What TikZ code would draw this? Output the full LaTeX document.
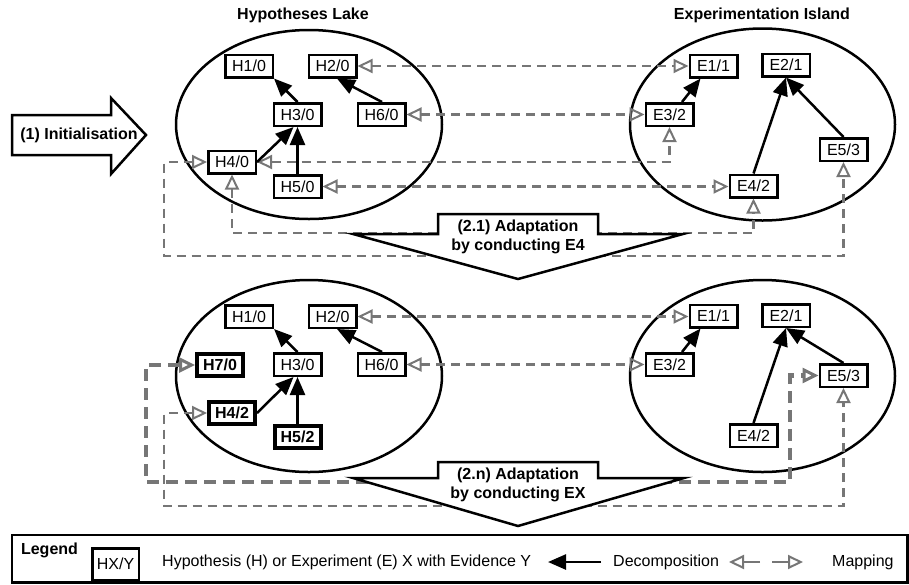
\documentclass[tikz,border=0pt]{standalone}
\usepackage{fontspec}
\setmainfont{Liberation Sans}
\usetikzlibrary{arrows.meta,calc}
\definecolor{mapgray}{HTML}{767676}
\begin{document}
\begin{tikzpicture}[x=1pt,y=-1pt,
  font=\fontsize{16}{19}\selectfont,
  box/.style={draw, line width=2.5pt, fill=white, minimum width=47.5pt, minimum height=22.5pt, inner sep=0pt},
  boldbox/.style={draw, line width=4pt, fill=white, minimum width=46pt, minimum height=22pt, inner sep=0pt, font=\fontsize{16}{19}\selectfont\bfseries},
  dec/.style={draw, line width=2.5pt, -{Triangle[length=18pt,width=15pt]}},
  maptip/.tip={Triangle[open,length=15pt,width=14pt,line width=2pt]},
  map/.style={draw=mapgray, line width=2.5pt, dash pattern=on 9pt off 6pt, maptip-maptip},
  mapthick/.style={draw=mapgray, line width=4.5pt, dash pattern=on 12pt off 7pt, {Triangle[open,length=16pt,width=15pt,line width=3pt]}-{Triangle[open,length=16pt,width=15pt,line width=3pt]}},
  callout/.style={draw, line width=2.5pt, fill=white, line join=miter},
  lbl/.style={font=\fontsize{16}{19}\selectfont\bfseries, align=center, inner sep=0pt}
]
\useasboundingbox (0,0) rectangle (909,584);

% helper coordinates
\coordinate (leftA) at (164,0);
\coordinate (leftB) at (146,0);
\coordinate (rightB) at (790,0);
\coordinate (lowA) at (0,233);
\coordinate (lowB) at (0,256);
\coordinate (lowC) at (0,482);
\coordinate (lowD) at (0,506);

% titles
\node[lbl] (t1) at (303,15) {Hypotheses Lake};
\node[lbl] (t2) at (762,15) {Experimentation Island};

% ellipses
\draw[line width=2.5pt] (309,124.5) ellipse [x radius=133pt, y radius=94.5pt];
\draw[line width=2.5pt] (762.5,124.5) ellipse [x radius=132.5pt, y radius=96pt];
\draw[line width=2.5pt] (309,376) ellipse [x radius=133pt, y radius=96pt];
\draw[line width=2.5pt] (762.5,376) ellipse [x radius=132.5pt, y radius=96pt];

% ---------- top nodes ----------
\node[box] (h1) at (249,66) {H1/0};
\node[box] (h2) at (332.5,66) {H2/0};
\node[box] (h3) at (297.5,114.5) {H3/0};
\node[box] (h6) at (381.5,114.5) {H6/0};
\node[box] (h4) at (232,162) {H4/0};
\node[box] (h5) at (297.5,186.5) {H5/0};
\node[box] (e1) at (713.5,66) {E1/1};
\node[box] (e2) at (786,65) {E2/1};
\node[box] (e3) at (669.5,114.5) {E3/2};
\node[box] (e4) at (753.5,186) {E4/2};
\node[box] (e5) at (843.5,149.5) {E5/3};

% top mappings
\draw[map] (h2.east) -- (h2.east -| e1.west);
\draw[map] (h6.east) -- (h6.east -| e3.west);
\draw[map] (h4.east) -- (h4.east -| e3.south) -- (e3.south);
\draw[map] (h5.east) -- (h5.east -| e4.west);
\draw[map] (h4.south) -- (h4.south |- lowA) -- (lowA -| e4.south) -- (e4.south);
\draw[map] (h4.west) -- (h4.west -| leftA) -- (leftA |- lowB) -- (lowB -| e5.south) -- (e5.south);

% top decompositions
\draw[dec] (h3.north) -- (h1.south east);
\draw[dec] ([xshift=0.5pt]h6.north) -- ([xshift=4.5pt]h2.south);
\draw[dec] (h4.east) -- ([xshift=-4pt]h3.south);
\draw[dec] (h5.north) -- (h3.south);
\draw[dec] ([xshift=12.5pt]e3.north) -- ([xshift=-13pt]e1.south);
\draw[dec] (e4.north) -- (e2.south);
\draw[dec] (e5.north) -- (e2.south);

% callout 2.1
\draw[callout] (438,214) -- (598,214) -- (598,234) -- (683,234) -- (518,279) -- (353,234) -- (438,234) -- cycle;
\node[lbl] (c1) at (518,236.5) {(2.1) Adaptation\\by conducting E4};

% initialisation arrow
\draw[callout] (12,115) -- (111,115) -- (111,98) -- (146,135) -- (111,174) -- (111,155) -- (12,155) -- cycle;
\node[lbl] (init) at (79,135) {(1) Initialisation};

% ---------- bottom nodes ----------
\node[box] (bh1) at (249,316.5) {H1/0};
\node[box] (bh2) at (332.5,316.5) {H2/0};
\node[box] (bh3) at (297.5,364.5) {H3/0};
\node[box] (bh6) at (381.5,364.5) {H6/0};
\node[boldbox] (bh7) at (220,365) {H7/0};
\node[boldbox] (bh4) at (232,413) {H4/2};
\node[boldbox] (bh5) at (297.5,436.5) {H5/2};
\node[box] (be1) at (713.5,316) {E1/1};
\node[box] (be2) at (786,315.5) {E2/1};
\node[box] (be3) at (669.5,364.5) {E3/2};
\node[box] (be4) at (753.5,435.5) {E4/2};
\node[box] (be5) at (843.5,375.5) {E5/3};

% bottom mappings
\draw[map] (bh2.east) -- (bh2.east -| be1.west);
\draw[map] (bh6.east) -- (bh6.east -| be3.west);
\draw[mapthick] (bh7.west) -- (bh7.west -| leftB) -- (leftB |- lowC) -- (lowC -| rightB) -- (rightB |- be5.west) -- (be5.west);
\draw[map] (bh4.west) -- (bh4.west -| leftA) -- (leftA |- lowD) -- (lowD -| be5.south) -- (be5.south);

% bottom decompositions
\draw[dec] (bh3.north) -- (bh1.south east);
\draw[dec] ([xshift=0.5pt]bh6.north) -- ([xshift=4.5pt]bh2.south);
\draw[dec] (bh4.east) -- ([xshift=-4pt]bh3.south);
\draw[dec] (bh5.north) -- (bh3.south);
\draw[dec] ([xshift=12.5pt]be3.north) -- ([xshift=-13pt]be1.south);
\draw[dec] (be4.north) -- (be2.south);
\draw[dec] (be5.north) -- (be2.south);

% callout 2.n
\draw[callout] (438,462) -- (598,462) -- (598,478) -- (684,478) -- (518,526) -- (353,478) -- (438,478) -- cycle;
\node[lbl] (c2) at (518,484.5) {(2.n) Adaptation\\by conducting EX};

% ---------- legend ----------
\draw[line width=2.5pt] (12,535) rectangle (907.5,582.5);
\node[lbl] (lg) at (49.5,550) {Legend};
\node[box, minimum width=46.5pt, minimum height=31.5pt] (lgbox) at (115.5,564) {HX/Y};
\node[anchor=west, inner sep=0pt] (lgtext) at (162,562) {Hypothesis (H) or Experiment (E) X with Evidence Y};
\coordinate (la1) at (601,562);
\coordinate (la2) at (548,562);
\draw[dec] (la1) -- (la2);
\node[anchor=west, inner sep=0pt] (lgdec) at (613,562) {Decomposition};
\coordinate (lm1) at (760,562);
\coordinate (lm2) at (729,562);
\coordinate (lm3) at (772,562);
\coordinate (lm4) at (803,562);
\draw[draw=mapgray, line width=2.5pt, -maptip] (lm1) -- (lm2);
\draw[draw=mapgray, line width=2.5pt, -maptip] (lm3) -- (lm4);
\node[anchor=west, inner sep=0pt] (lgmap) at (832,562) {Mapping};
\end{tikzpicture}
\end{document}
